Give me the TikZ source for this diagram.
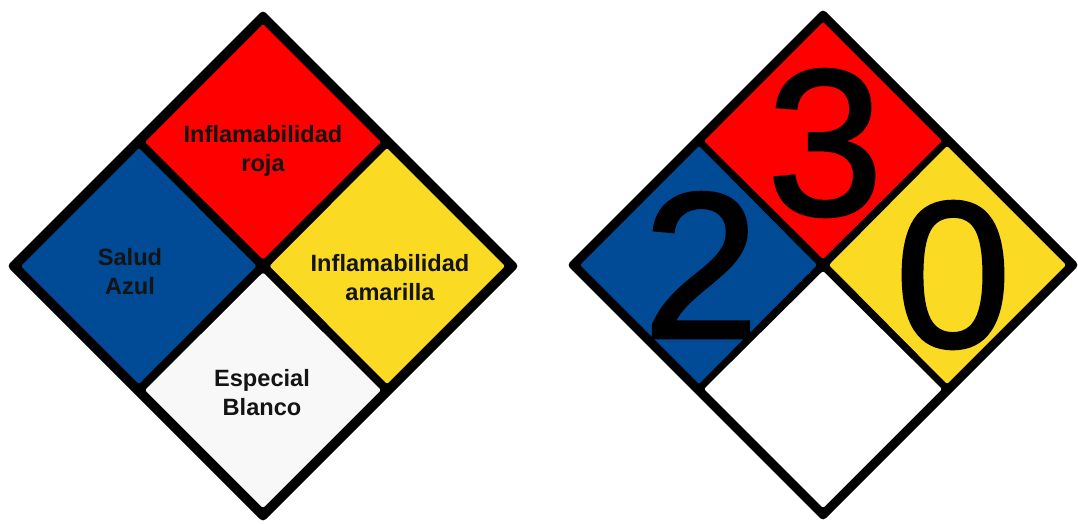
\documentclass[tikz,border=0pt]{standalone}
\usepackage{fontspec}
\setmainfont{Liberation Sans}
\newfontfamily\digitfont[FakeBold=1.6]{Liberation Sans}
\definecolor{nfred}{RGB}{255,0,0}
\definecolor{nfblue}{RGB}{0,74,150}
\definecolor{nfyellow}{RGB}{250,218,34}
\definecolor{nfwhiteA}{RGB}{248,248,248}
\definecolor{nftext}{RGB}{20,20,20}
\begin{document}
\begin{tikzpicture}[x=1pt,y=-1pt]
\tikzset{
  outerbox/.style={fill=black, rounded corners=4pt},
  innerbox/.style={rounded corners=2pt},
  lbl/.style={font=\bfseries\fontsize{23.6}{29}\selectfont, align=center, text=nftext, inner sep=0pt},
  digit/.style={font=\digitfont\fontsize{208}{208}\selectfont, inner sep=0pt, text=black},
}
\useasboundingbox (0,0) rectangle (1078,523);
% ---------- left diamond ----------
\begin{scope}[shift={(263,266)}]
  \fill[outerbox] (0,-256) -- (256,0) -- (0,256) -- (-256,0) -- cycle;
  \fill[innerbox, nfred]    (0,-242) -- (118,-124) -- (0,-6.5) -- (-118,-124) -- cycle;
  \fill[innerbox, nfblue]   (-124,-118) -- (-6.5,0) -- (-124,118) -- (-242,0) -- cycle;
  \fill[innerbox, nfyellow] (124,-118) -- (242,0) -- (124,118) -- (6.5,0) -- cycle;
  \fill[innerbox, nfwhiteA] (0,6.5) -- (118,124) -- (0,242) -- (-118,124) -- cycle;
  \node[lbl] (flam) at (0,-115) {Inflamabilidad\\roja};
  \node[lbl] (salud) at (-133,6) {Salud\\Azul};
  \node[lbl] (flamam) at (127,12) {Inflamabilidad\\amarilla};
  \node[lbl] (esp) at (-1,127) {Especial\\Blanco};
\end{scope}
% ---------- right diamond ----------
\begin{scope}[shift={(823,265)}]
  \fill[outerbox] (0,-256) -- (256,0) -- (0,256) -- (-256,0) -- cycle;
  \fill[innerbox, nfred]    (0,-243) -- (119,-124) -- (0,-6) -- (-119,-124) -- cycle;
  \fill[innerbox, nfblue]   (-124,-119) -- (-6,0) -- (-124,119) -- (-243,0) -- cycle;
  \fill[innerbox, nfyellow] (124,-119) -- (243,0) -- (124,119) -- (6,0) -- cycle;
  \fill[innerbox, white]    (0,6) -- (119,124) -- (0,243) -- (-119,124) -- cycle;
  \node[digit] (three) at (2,-122) {3};
  \node[digit] (two) at (-122,0) {2};
  \node[digit] (zero) at (130,10) {0};
\end{scope}
\end{tikzpicture}
\end{document}
